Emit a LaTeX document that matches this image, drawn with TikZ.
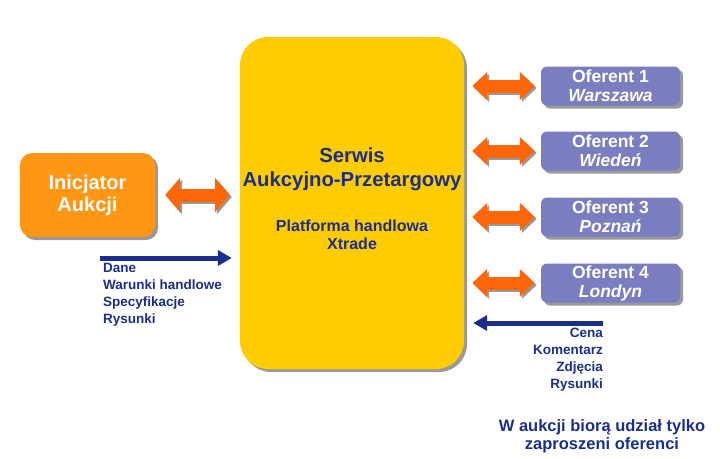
\documentclass[tikz,border=0pt]{standalone}
\usepackage{fontspec}
\setmainfont{Liberation Sans}
\usetikzlibrary{positioning,arrows.meta,shadows}
\definecolor{iniorange}{RGB}{255,150,20}
\definecolor{arrorange}{RGB}{255,102,10}
\definecolor{srvyellow}{RGB}{255,204,0}
\definecolor{ofblue}{RGB}{122,126,192}
\definecolor{navy}{RGB}{26,46,140}

\begin{document}
\begin{tikzpicture}[
  x=1pt,y=-1pt,
  shad/.style={drop shadow={shadow xshift=3pt, shadow yshift=-3pt, fill=black!40, opacity=1}},
  ini/.style={shad, rounded corners=12pt, fill=iniorange, text=white, align=center,
    minimum width=135pt, minimum height=84pt, font=\bfseries\fontsize{20}{22}\selectfont},
  srv/.style={shad, rounded corners=28pt, fill=srvyellow,
    minimum width=224pt, minimum height=332pt},
  srvtext/.style={text=navy, align=center, inner sep=0pt},
  ofer/.style={shad, rounded corners=6pt, fill=ofblue, text=white, align=center,
    minimum width=139pt, minimum height=39pt, inner sep=0pt,
    font=\bfseries\fontsize{17.5}{19}\selectfont},
  darr/.style={line width=13pt, draw=arrorange,
    {Triangle[length=15pt,width=#1]}-{Triangle[length=15pt,width=#1]}},
  dshad/.style={line width=13pt, draw=black!40,
    {Triangle[length=15pt,width=#1]}-{Triangle[length=15pt,width=#1]},
    transform canvas={xshift=2pt,yshift=-2pt}},
  blu/.style={line width=5pt, draw=navy, -{Triangle[length=14pt,width=15pt]}},
  note/.style={text=navy, inner sep=0pt, font=\bfseries\fontsize{13.5}{17}\selectfont}
]
\useasboundingbox (0,0) rectangle (720,458);

% central service
\node[srv] (srv) at (352,203) {};
\node[srvtext, font=\bfseries\fontsize{20.3}{24}\selectfont, anchor=north] (tit) at (352,148) {Serwis\\Aukcyjno-Przetargowy};
\node[srvtext, font=\bfseries\fontsize{16}{18}\selectfont, anchor=north] (plat) at (352,220) {Platforma handlowa\\Xtrade};

% initiator
\node[ini] (ini) at (87.5,195) {Inicjator\\Aukcji};
\draw[dshad=34pt, shorten <=10pt, shorten >=10pt] (ini.east) -- (ini.east -| srv.west);
\draw[darr=34pt, shorten <=10pt, shorten >=10pt] (ini.east) -- (ini.east -| srv.west);

% bidders
\foreach \i/\city/\yy in {1/Warszawa/86, 2/Wiedeń/151, 3/Poznań/217, 4/Londyn/283} {
  \node[ofer] (of\i) at (610.5,\yy) {Oferent \i\\\textit{\city}};
  \draw[dshad=27pt, shorten <=8pt, shorten >=6pt] (srv.east |- of\i.west) -- (of\i.west);
  \draw[darr=27pt, shorten <=8pt, shorten >=6pt] (srv.east |- of\i.west) -- (of\i.west);
}

% data flows
\coordinate (dstart) at (100,258);
\draw[blu, shorten >=8pt] (dstart) -- (dstart -| srv.west);
\node[note, anchor=north west, align=left] (dane) at (103,263) {Dane\\Warunki handlowe\\Specyfikacje\\Rysunki};

\coordinate (cstart) at (603,323);
\draw[blu, shorten >=9pt] (cstart) -- (cstart -| srv.east);
\node[note, anchor=north east, align=right] (cena) at (603,328) {Cena\\Komentarz\\Zdjęcia\\Rysunki};

% remark
\node[note, anchor=north, align=center, font=\bfseries\fontsize{16.5}{18}\selectfont] (uw) at (602,419)
  {W aukcji biorą udział tylko\\zaproszeni oferenci};

\end{tikzpicture}
\end{document}
